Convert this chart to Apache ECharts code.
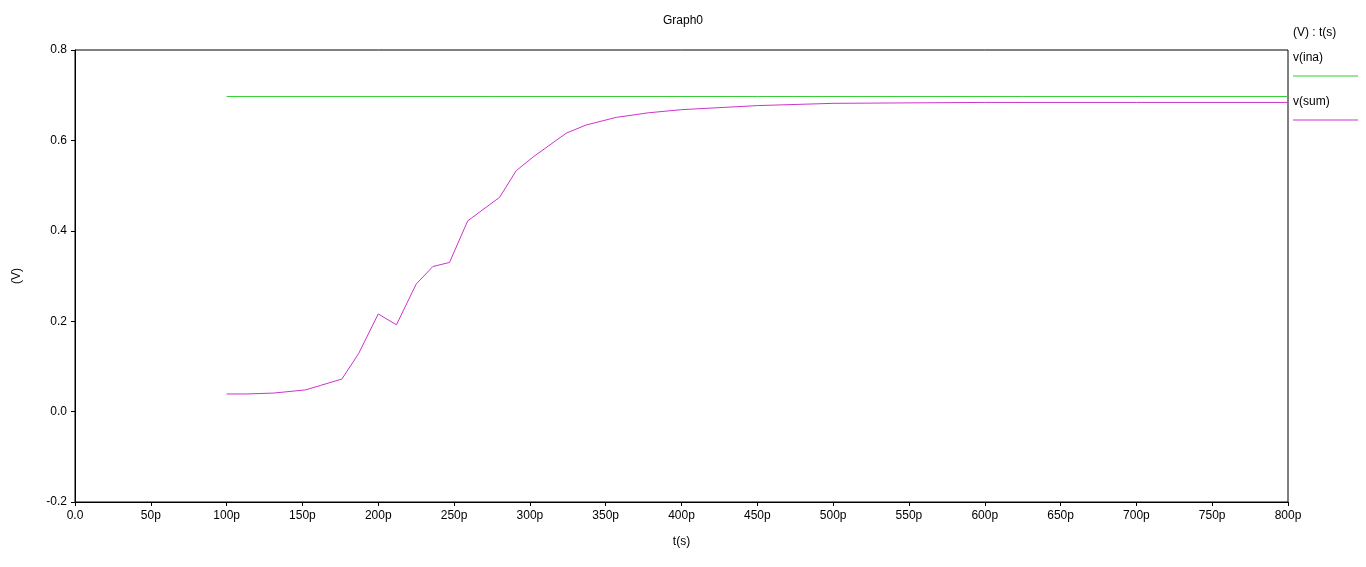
<!DOCTYPE html>
<html><head><meta charset="utf-8">
<script src="https://cdn.jsdelivr.net/npm/echarts@6/dist/echarts.min.js"></script>
<style>html,body{margin:0;background:#fff}#c{width:1366px;height:567px}</style>
</head><body><div id="c"></div>
<script>
// time in ps, voltage in V
var inaT = [100, 800];
var inaV = [0.697, 0.697];
var sumT = [100, 113, 131, 152, 162, 176, 187, 200, 212, 225, 236, 247, 259, 280, 291, 302, 324, 337, 357, 378, 400, 450, 500, 600, 700, 800];
var sumV = [0.039, 0.039, 0.041, 0.048, 0.058, 0.072, 0.128, 0.216, 0.192, 0.282, 0.321, 0.330, 0.422, 0.474, 0.533, 0.563, 0.616, 0.634, 0.651, 0.661, 0.668, 0.677, 0.682, 0.684, 0.684, 0.684];

function pairs(t, v) { return t.map(function (x, i) { return [x, v[i]]; }); }

var chart = echarts.init(document.getElementById('c'));
var txt = { color: '#000', fontFamily: 'Liberation Sans', fontSize: 12 };
chart.setOption({
  animation: false,
  title: { text: 'Graph0', left: 'center', top: 10, textStyle: { fontSize: 12, fontWeight: 'normal', color: '#000', fontFamily: 'Liberation Sans' } },
  grid: { left: 75, right: 78, top: 50, bottom: 65, show: true, borderColor: '#000', borderWidth: 1 },
  xAxis: {
    type: 'value', min: 0, max: 800, interval: 50,
    name: 't(s)', nameLocation: 'middle', nameGap: 34, nameTextStyle: txt,
    axisLine: { onZero: false, lineStyle: { color: '#000' } },
    axisTick: { lineStyle: { color: '#000' }, length: 4 },
    splitLine: { show: false },
    axisLabel: Object.assign({ formatter: function (v) { return v === 0 ? '0.0' : v + 'p'; } }, txt)
  },
  yAxis: {
    type: 'value', min: -0.2, max: 0.8, interval: 0.2,
    name: '(V)', nameLocation: 'middle', nameGap: 52, nameTextStyle: txt,
    axisLine: { show: true, lineStyle: { color: '#000' } },
    axisTick: { show: true, lineStyle: { color: '#000' }, length: 4 },
    splitLine: { show: false },
    axisLabel: Object.assign({ formatter: function (v) { return v.toFixed(1); } }, txt)
  },
  series: [
    { name: 'v(ina)', type: 'line', data: pairs(inaT, inaV), symbol: 'none', lineStyle: { color: '#33cc33', width: 1 } },
    { name: 'v(sum)', type: 'line', data: pairs(sumT, sumV), symbol: 'none', lineStyle: { color: '#cc33cc', width: 1 } }
  ],
  graphic: [
    { type: 'text', left: 1293, top: 27, style: { text: '(V) : t(s)', fill: '#000', font: '12px Liberation Sans' } },
    { type: 'text', left: 1293, top: 52, style: { text: 'v(ina)', fill: '#000', font: '12px Liberation Sans' } },
    { type: 'line', shape: { x1: 1293, y1: 76, x2: 1358, y2: 76 }, style: { stroke: '#33cc33', lineWidth: 1 } },
    { type: 'text', left: 1293, top: 96, style: { text: 'v(sum)', fill: '#000', font: '12px Liberation Sans' } },
    { type: 'line', shape: { x1: 1293, y1: 120, x2: 1358, y2: 120 }, style: { stroke: '#cc33cc', lineWidth: 1 } }
  ]
});
</script></body></html>
